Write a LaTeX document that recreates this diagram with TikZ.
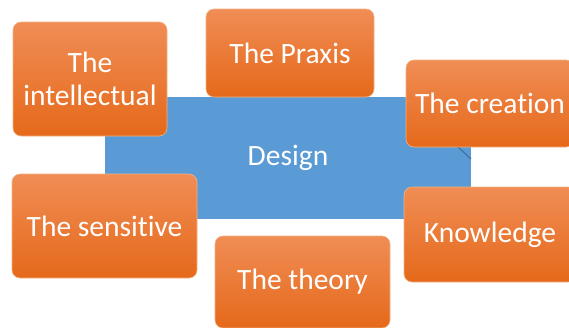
\documentclass[tikz,border=0pt]{standalone}
\usepackage{fontspec}
\setmainfont[Ligatures=NoCommon]{Carlito}
\definecolor{designblue}{HTML}{5B9BD5}
\definecolor{edgeblue}{HTML}{41719C}
\definecolor{orangetop}{HTML}{F08D55}
\definecolor{orangebot}{HTML}{E5691A}
\definecolor{orangeline}{HTML}{F4B183}
\tikzset{
  topic/.style={rounded corners=8pt, top color=orangetop, bottom color=orangebot,
    draw=orangeline, line width=0.6pt, text=white, align=center,
    font=\fontsize{29.5}{33}\selectfont, inner sep=0pt},
  core/.style={fill=designblue, text=white, font=\fontsize{29.5}{33}\selectfont, inner sep=0pt}
}
\begin{document}
\begin{tikzpicture}[x=1pt, y=-1pt]
  \useasboundingbox (0,0) rectangle (569,327);
  \clip (0,0) rectangle (569,327);
  \node[core, minimum width=366pt, minimum height=122pt] (design) at (288,158) {Design};
  \coordinate (fold) at (456,145);
  \coordinate (tip) at (471,159);
  \begin{scope}[-]
    \draw[edgeblue, line width=1.2pt] (fold) to (tip);
  \end{scope}
  \node[topic, minimum width=154pt, minimum height=114pt] (intellectual) at (90,79) {The\\intellectual};
  \node[topic, minimum width=168pt, minimum height=88pt] (praxis) at (290,53) {The Praxis};
  \node[topic, minimum width=168pt, minimum height=87pt] (creation) at (490,103.5) {The creation};
  \node[topic, minimum width=185pt, minimum height=104pt] (sensitive) at (104.5,226) {The sensitive};
  \node[topic, minimum width=175pt, minimum height=92pt] (theory) at (302.5,282) {The theory};
  \node[topic, minimum width=172pt, minimum height=95pt] (knowledge) at (490,234.5) {Knowledge};
\end{tikzpicture}
\end{document}
